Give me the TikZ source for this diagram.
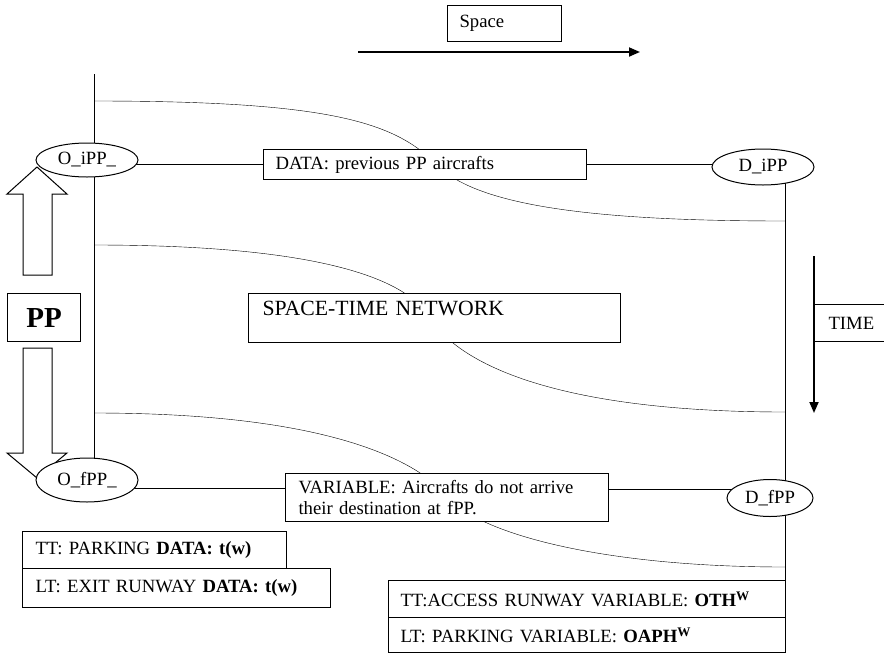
\documentclass[tikz,border=0pt]{standalone}
\usepackage{fontspec}
\setmainfont{Liberation Serif}
\usetikzlibrary{arrows.meta,shapes.geometric}
\pgfdeclarelayer{background}
\pgfsetlayers{background,main}
\newcommand\fsn{\fontsize{18.7pt}{21.7pt}\selectfont}
\newcommand\fsb{\fontsize{21.7pt}{25pt}\selectfont}
\begin{document}
\begin{tikzpicture}[x=1pt,y=-1pt,line width=1pt,
  box/.style={draw, fill=white, anchor=north west, align=left, inner ysep=0pt, font=\fsn},
  oval/.style={draw, fill=white, ellipse, inner sep=0pt, font=\fsn},
  flow/.style={line width=1.8pt, -{Triangle[length=11pt,width=9pt]}},
  blockarrow/.style={draw, line width=1pt, fill=white}]
\useasboundingbox (0,0) rectangle (884,654);

% text boxes
\node[box, text width=90pt, inner xsep=12pt, minimum height=36pt] (space) at (447,5) {Space};
\node[box, text width=299pt, inner xsep=12pt, minimum height=30pt] (data) at (263,149) {DATA: previous PP aircrafts};
\node[box, text width=344pt, inner xsep=14pt, text height=22pt, text depth=27pt, font=\fsb] (stn) at (248,293) {SPACE-TIME NETWORK};
\node[draw, fill=white, anchor=north west, minimum width=73pt, minimum height=48pt, inner sep=0pt,
      font=\fontsize{29pt}{32pt}\selectfont\bfseries] (pp) at (7,293) {PP};
\node[box, text width=60pt, inner xsep=14pt, minimum height=37pt] (time) at (814,304) {TIME};
\node[box, text width=297pt, inner xsep=13pt, minimum height=48pt] (var) at (285,473)
  {VARIABLE: Aircrafts do not arrive\\their destination at fPP.};
\node[box, text width=238pt, inner xsep=13pt, minimum height=37pt] (ttp) at (22,531)
  {TT: PARKING \textbf{DATA: t(w)}};
\node[box, text width=282pt, inner xsep=13pt, minimum height=39pt] (lte) at (22,568)
  {LT: EXIT RUNWAY \textbf{DATA: t(w)}};
\node[box, text width=373pt, inner xsep=12pt, minimum height=37pt] (tta) at (388,580)
  {TT:ACCESS RUNWAY VARIABLE: \textbf{OTH\textsuperscript{W}}};
\node[box, text width=373pt, inner xsep=12pt, minimum height=35pt] (ltp) at (388,617)
  {LT: PARKING VARIABLE: \textbf{OAPH\textsuperscript{W}}};

% ellipses
\node[oval, minimum width=102pt, minimum height=34pt] (oi) at (87,160) {O\_iPP\_};
\node[oval, minimum width=102pt, minimum height=36pt] (di) at (763,167) {D\_iPP};
\node[oval, minimum width=102pt, minimum height=44pt] (of) at (87,480) {O\_fPP\_};
\node[oval, minimum width=86pt, minimum height=37pt] (df) at (770,498) {D\_fPP};

% arrows
\coordinate (sp1) at (358,52);
\coordinate (sp2) at (640,52);
\draw[flow] (sp1) -- (sp2);
\coordinate (t1) at (814,256);
\coordinate (t2) at (814,413);
\draw[flow] (t1) -- (t2);

\begin{pgfonlayer}{background}
  % vertical time lines
  \coordinate (ltop) at (94,74);
  \coordinate (lbot) at (94,470);
  \coordinate (rtop) at (785,175);
  \coordinate (rbot) at (785,652);
  \draw (ltop) -- (lbot);
  \draw (rtop) -- (rbot);
  % connectors
  \draw (oi.center |- data.west) -- (data.west);
  \draw (data.east) -- (data.east -| di.center);
  \draw ([yshift=-8pt]of.center) -- ([yshift=-8pt]of.center -| var.west);
  \draw ([yshift=8pt]var.east) -- ([yshift=8pt]var.east -| df.center);
  % curves
  \draw (94,101) .. controls (330,101) and (395,122) .. (437,165)
                 .. controls (478,207) and (600,221) .. (785,221);
  \draw (94,245) .. controls (340,245) and (410,285) .. (429,317)
                 .. controls (465,373) and (580,412) .. (785,412);
  \draw (94,413) .. controls (330,413) and (418,461) .. (448,497)
                 .. controls (478,533) and (600,567) .. (785,567);
  % block arrows
  \draw[blockarrow] (23,275) -- (23,194) -- (7,194) -- (37,167) -- (67,194) -- (52,194) -- (52,275) -- cycle;
  \draw[blockarrow] (23,348) -- (23,453) -- (7,453) -- (37,478) -- (67,453) -- (52,453) -- (52,348) -- cycle;
\end{pgfonlayer}
\end{tikzpicture}
\end{document}
